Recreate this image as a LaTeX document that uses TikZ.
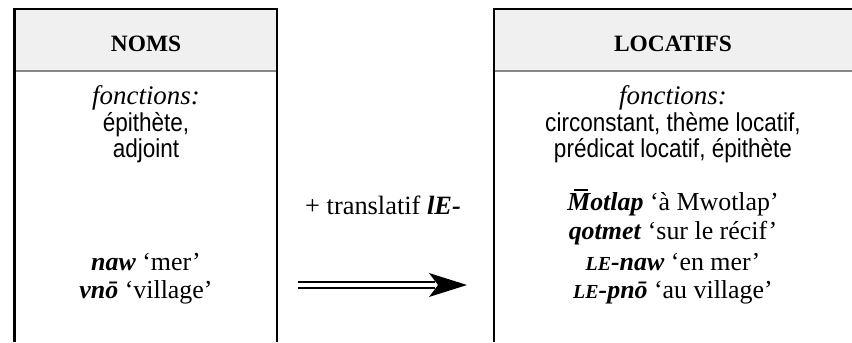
\documentclass[tikz,border=0pt]{standalone}
\usepackage{fontspec}
\setmainfont{Liberation Serif}
\newfontfamily\sansf[FakeStretch=0.87]{Liberation Sans}
\usetikzlibrary{calc}
\definecolor{hdrfill}{HTML}{F0F0F0}
\definecolor{hdrline}{HTML}{878787}
\newcommand{\lecaps}{{\fontsize{20}{20}\selectfont LE}}
\newcommand{\Mmacron}{\ooalign{M\cr\hidewidth\kern0.18em\rule[0.74em]{0.55em}{0.07em}\hidewidth\cr}}
\begin{document}
\begin{tikzpicture}[x=1bp,y=-1bp,
  hdrtxt/.style={inner sep=0pt,anchor=base,font=\fontsize{23.5}{28}\selectfont\bfseries},
  txt/.style={inner sep=0pt,anchor=base,font=\fontsize{26}{30}\selectfont},
  fonctxt/.style={inner sep=0pt,anchor=base,font=\fontsize{27}{32}\selectfont\itshape},
  sanstxt/.style={inner sep=0pt,anchor=base,font=\sansf\fontsize{26}{30}\selectfont},
  border/.style={line width=2.6bp,black},
  hdr/.style={fill=hdrfill},
  sep/.style={line width=2bp,hdrline},
  arrline/.style={line width=2bp,black}]
\useasboundingbox (0,0) rectangle (852,342);
% left box
\fill[hdr] (14.5,9) rectangle (277,71);
\draw[sep] (14.5,71) -- (277,71);
\draw[border] (14.5,342) -- (14.5,9) -- (277,9) -- (277,342);
% right box
\fill[hdr] (494,9) rectangle (852,71);
\draw[sep] (494,71) -- (852,71);
\draw[border] (494,342) -- (494,9) -- (852,9);
% headers
\node[hdrtxt] (noms) at (146,51) {NOMS};
\node[hdrtxt] (locatifs) at (673,51) {LOCATIFS};
% left content
\node[fonctxt] (lfonc) at (146,104) {fonctions:};
\node[sanstxt] (lf1) at (146,131) {épithète,};
\node[sanstxt] (lf2) at (146,157) {adjoint};
\node[txt] (naw) at (146,270) {\textbf{\textit{naw}} ‘mer’};
\node[txt] (vno) at (146,298) {\textbf{\textit{vnō}} ‘village’};
% right content
\node[fonctxt] (rfonc) at (673,104) {fonctions:};
\node[sanstxt] (rf1) at (673,131) {circonstant, thème locatif,};
\node[sanstxt] (rf2) at (673,157) {prédicat locatif, épithète};
\node[txt] (motlap) at (673,210) {\textbf{\textit{\Mmacron otlap}} ‘à Mwotlap’};
\node[txt] (qotmet) at (673,239) {\textbf{\textit{qotmet}} ‘sur le récif’};
\node[txt] (lenaw) at (673,270) {\textbf{\textit{\lecaps-naw}} ‘en mer’};
\node[txt] (lepno) at (673,298) {\textbf{\textit{\lecaps-pnō}} ‘au village’};
% middle
\node[txt,font=\fontsize{26.5}{32}\selectfont] (transl) at (383,214) {+ translatif \textbf{\textit{lE-}}};
% arrow
\coordinate (astart) at (298,285);
\coordinate (atip) at (467,285);
\draw[arrline] ($(astart)+(0,-3)$) -- ($(atip)+(-32,-3)$);
\draw[arrline] ($(astart)+(0,3)$) -- ($(atip)+(-32,3)$);
\fill[black] (atip) -- ($(atip)+(-38,-12)$) -- ($(atip)+(-29,0)$) -- ($(atip)+(-38,12)$) -- cycle;
\end{tikzpicture}
\end{document}
